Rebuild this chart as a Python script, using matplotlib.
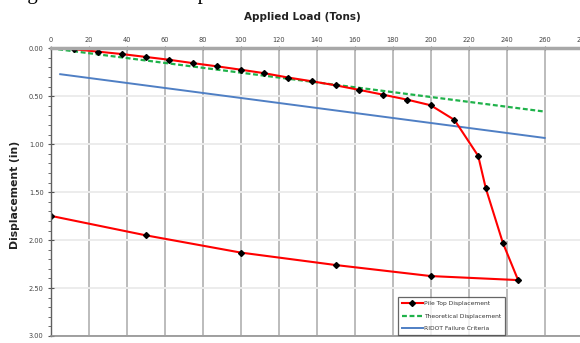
"""
Load-displacement curve for a static pile load test.
"""
import matplotlib
matplotlib.use("Agg")
import matplotlib.pyplot as plt
from matplotlib.ticker import MultipleLocator, FormatStrFormatter

# Pile top displacement, loading then unloading (tons, inches)
pile_load = [12.5, 25, 37.5, 50, 62.5, 75, 87.5, 100, 112.5, 125, 137.5, 150,
             162.5, 175, 187.5, 200, 212.5, 225, 229, 238, 246,
             200, 150, 100, 50, 0]
pile_disp = [0.01, 0.035, 0.06, 0.09, 0.12, 0.155, 0.188, 0.223, 0.26, 0.305,
             0.344, 0.386, 0.434, 0.484, 0.535, 0.594, 0.747, 1.122, 1.46,
             2.03, 2.417,
             2.375, 2.26, 2.13, 1.95, 1.747]

# Elastic (PL/AE) displacement
theory_load = [0, 260]
theory_disp = [0, 0.66]

# Failure criterion line
ridot_load = [5, 260]
ridot_disp = [0.27, 0.935]

x_ticks = list(range(0, 281, 20))

W, H = 580, 343
fig = plt.figure(figsize=(W / 100, H / 100), dpi=100)
ax = fig.add_axes([50.7 / W, 7 / H, 532 / W, 287.7 / H])

ax.plot(theory_load, theory_disp, color="#1fb24a", lw=1.6, ls=(0, (2.2, 1.2)),
        label="Theoretical Displacement", zorder=3)
ax.plot(ridot_load, ridot_disp, color="#4f7fc4", lw=1.4,
        label="RIDOT Failure Criteria", zorder=3)
ax.plot(pile_load, pile_disp, color="#ff0000", lw=1.5, marker="D", ms=3.0,
        mfc="black", mec="black", label="Pile Top Displacement", zorder=4)

ax.set_xlim(0, 280)
ax.set_ylim(3.0, 0.0)
ax.xaxis.tick_top()
ax.set_xticks(x_ticks)
ax.yaxis.set_major_locator(MultipleLocator(0.5))
ax.yaxis.set_minor_locator(MultipleLocator(0.1))
ax.yaxis.set_major_formatter(FormatStrFormatter("%.2f"))
ax.tick_params(axis="x", labelsize=4.8, length=3, direction="inout",
               color="#808080", pad=2, labelcolor="#444444")
ax.tick_params(axis="y", which="major", labelsize=4.8, length=4,
               direction="inout", color="#555555", pad=3, labelcolor="#444444")
ax.tick_params(axis="y", which="minor", length=2, direction="out",
               color="#555555")

ax.grid(axis="x", color="#b0b0b0", lw=1.2)
ax.grid(axis="y", color="#ececec", lw=1.4)
ax.set_axisbelow(True)

ax.spines["top"].set_color("#a8a8a8")
ax.spines["top"].set_linewidth(2.5)
ax.spines["left"].set_color("#606060")
ax.spines["left"].set_linewidth(1.0)
ax.spines["bottom"].set_color("#909090")
ax.spines["bottom"].set_linewidth(1.2)
ax.spines["right"].set_visible(False)
for s in ax.spines.values():
    s.set_zorder(5)

fig.text(302 / W, 1 - 17 / H, "Applied Load (Tons)", ha="center", va="center",
         fontsize=7.5, fontweight="bold", color="#222222")
fig.text(15 / W, 1 - 195 / H, "Displacement (in)", ha="center", va="center",
         rotation=90, fontsize=7.8, fontweight="bold", color="#222222")

# caption of the surrounding page, mostly cut off at the top edge
fig.text(10 / W, 1 + 1.5 / H, "Figure 6: Load vs. Displacement", ha="left",
         va="baseline", fontsize=15, family="Liberation Serif")

handles, labels = ax.get_legend_handles_labels()
order = [2, 0, 1]
leg = ax.legend([handles[i] for i in order], [labels[i] for i in order],
                loc="lower left", bbox_to_anchor=(398 / W, 8 / H),
                bbox_transform=fig.transFigure, fontsize=4.3,
                frameon=True, fancybox=False, borderpad=0.6,
                labelspacing=1.25, handlelength=3.6, handletextpad=0.15,
                borderaxespad=0)
leg.get_frame().set_edgecolor("#404040")
leg.get_frame().set_linewidth(0.9)
for t in leg.get_texts():
    t.set_color("#333333")

fig.savefig("out.png", dpi=100)
